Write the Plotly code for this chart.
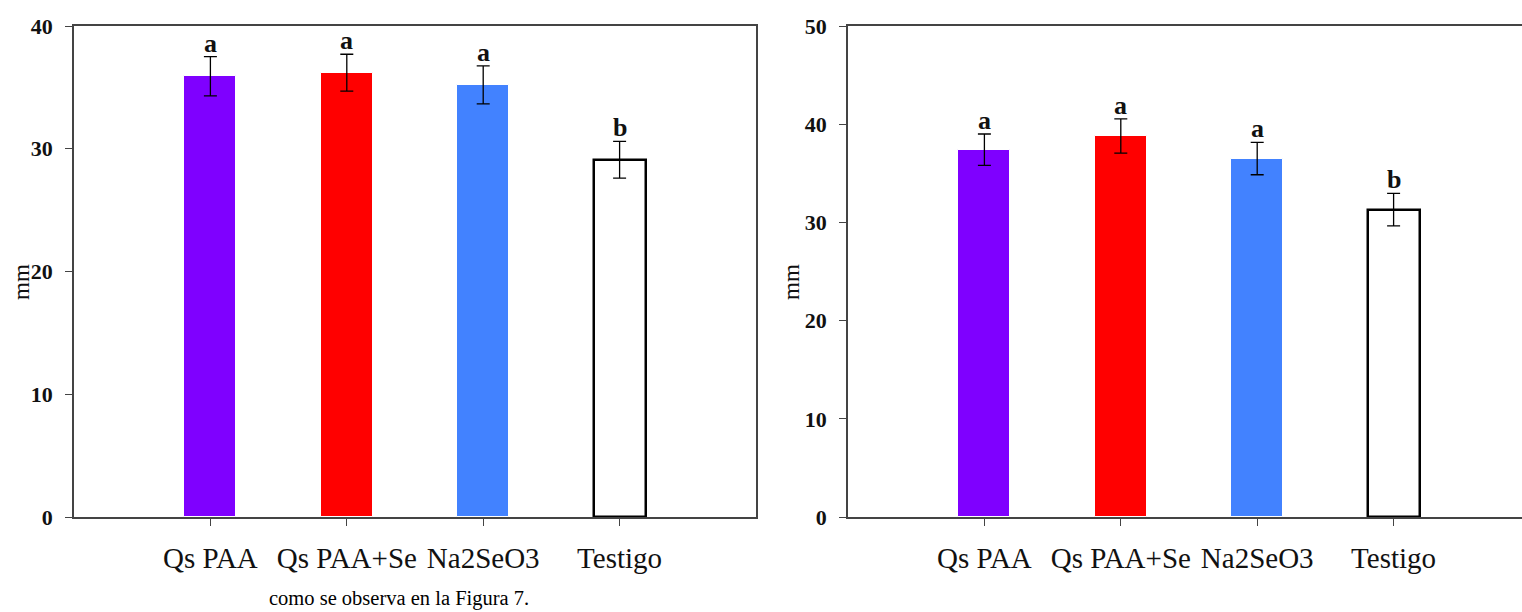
import plotly.graph_objects as go

categories = ["Qs PAA", "Qs PAA+Se", "Na2SeO3", "Testigo"]
left_values = [35.9, 36.2, 35.2, 29.1]
left_errors = [1.6, 1.5, 1.55, 1.5]
right_values = [37.4, 38.8, 36.5, 31.3]
right_errors = [1.6, 1.75, 1.65, 1.65]
letters_left = ["a", "a", "a", "b"]
letters_right = ["a", "a", "a", "b"]
bar_colors = ["#7F00FF", "#FF0000", "#4282FF", "#FFFFFF"]
line_colors = ["#FFFFFF", "#FFFFFF", "#FFFFFF", "#000000"]
line_widths = [1, 1, 1, 2.5]
left_ticks = [0, 10, 20, 30, 40]
right_ticks = [0, 10, 20, 30, 40, 50]
caption = "como se observa en la Figura 7."

W, H = 1522, 612
xs = list(range(len(categories)))

fig = go.Figure()

for vals, errs, xa, ya in [(left_values, left_errors, "x", "y"),
                           (right_values, right_errors, "x2", "y2")]:
    fig.add_trace(go.Bar(
        x=xs, y=vals, width=0.38,
        marker=dict(color=bar_colors, line=dict(color=line_colors, width=line_widths)),
        error_y=dict(type="data", array=errs, visible=True, color="#000000",
                     thickness=1.3, width=6.5),
        xaxis=xa, yaxis=ya, showlegend=False,
    ))

tickfont_num = dict(family="Liberation Serif", size=22, color="#111111")
catfont = dict(family="Liberation Serif", size=29, color="#111111")

def xaxis(domain, rng, anchor):
    return dict(domain=domain, range=rng, tickmode="array", tickvals=xs,
                ticktext=categories, ticks="outside", ticklen=7, tickwidth=1.3,
                tickcolor="#444444", showline=True, linecolor="#444444", linewidth=1.5,
                mirror=True, showgrid=False, zeroline=False, tickfont=catfont,
                ticklabelstandoff=7, automargin=False, anchor=anchor)

def yaxis(domain, rng, tv, anchor):
    return dict(domain=domain, range=rng, tickmode="array", tickvals=tv,
                ticktext=[f"<b>{t}</b>" for t in tv], ticks="outside", ticklen=7,
                tickwidth=1.3, tickcolor="#444444", showline=True, linecolor="#444444",
                linewidth=1.5, mirror=True, showgrid=False, zeroline=False,
                tickfont=tickfont_num, anchor=anchor, ticklabelstandoff=8,
                automargin=False)

ydom = [1 - 517 / H, 1 - 26 / H]
fig.update_layout(
    width=W, height=H, margin=dict(l=0, r=0, t=0, b=0, autoexpand=False),
    paper_bgcolor="white", plot_bgcolor="white", bargap=0,
    xaxis=xaxis([74 / W, 756 / W], [-1, 4], "y"),
    yaxis=yaxis(ydom, [0, 40], left_ticks, "x"),
    xaxis2=xaxis([848 / W, 1.0], [-1, 4 - 8 / 136.4], "y2"),
    yaxis2=yaxis(ydom, [0, 50], right_ticks, "x2"),
)

annotations = []
for vals, errs, lets, xr, yr in [(left_values, left_errors, letters_left, "x", "y"),
                                 (right_values, right_errors, letters_right, "x2", "y2")]:
    for i, (v, e, l) in enumerate(zip(vals, errs, lets)):
        annotations.append(dict(x=i, y=v + e, xref=xr, yref=yr, text=f"<b>{l}</b>",
                                showarrow=False, yanchor="bottom", yshift=-3,
                                font=dict(family="Liberation Serif", size=26, color="#111111")))

for xc in [22, 792]:
    annotations.append(dict(x=xc / W, y=1 - 282 / H, xref="paper", yref="paper",
                            xanchor="center", yanchor="middle",
                            text="mm", textangle=-90, showarrow=False,
                            font=dict(family="Liberation Serif", size=23, color="#111111")))

annotations.append(dict(x=399 / W, y=1 - 598 / H, xref="paper", yref="paper",
                        xanchor="center", yanchor="middle",
                        text=caption, showarrow=False,
                        font=dict(family="Liberation Serif", size=20.5, color="#000000")))

fig.update_layout(annotations=annotations)
fig.write_html("out.html")
